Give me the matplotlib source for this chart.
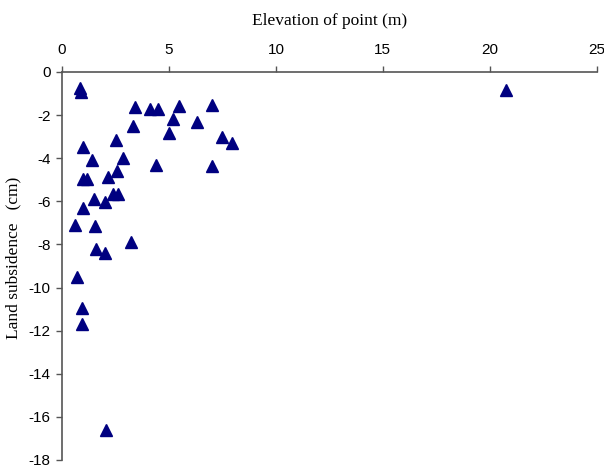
import numpy as np
import matplotlib.pyplot as plt

plt.rcParams['axes.unicode_minus'] = False

# elevation (m) and subsidence (cm)
elevation = [0.85, 0.90, 3.41, 4.11, 4.50, 5.48, 7.02, 5.20, 6.29, 3.33,
             5.02, 7.46, 7.96, 2.52, 0.99, 1.39, 2.87, 4.39, 7.01, 2.55,
             2.17, 0.99, 1.18, 1.52, 2.01, 2.40, 2.63, 1.00, 0.61, 1.54,
             3.21, 1.59, 2.01, 0.72, 0.93, 0.93, 2.06, 20.75]
subsidence = [-0.75, -0.95, -1.62, -1.70, -1.70, -1.59, -1.54, -2.16, -2.32, -2.52,
              -2.81, -3.01, -3.29, -3.17, -3.48, -4.10, -3.97, -4.30, -4.37, -4.59,
              -4.87, -4.95, -4.95, -5.88, -6.03, -5.64, -5.64, -6.29, -7.11, -7.16,
              -7.88, -8.22, -8.39, -9.51, -10.93, -11.70, -16.62, -0.82]

xticks = [0, 5, 10, 15, 20, 25]
yticks = np.arange(0, -19, -2)

fig = plt.figure(figsize=(6.04, 4.69), dpi=100)
ax = fig.add_axes([0.1026, 0.0192, 0.8854, 0.8273])

ax.plot(elevation, subsidence, linestyle='none', marker='^', markersize=9,
        color='#000080', markeredgecolor='#000080', clip_on=False)

ax.set_xlim(0, 25)
ax.set_ylim(-18, 0)
ax.set_xticks(xticks)
ax.set_yticks(yticks)

ax.xaxis.tick_top()
ax.xaxis.set_label_position('top')
for s in ['right', 'bottom']:
    ax.spines[s].set_visible(False)
for s in ['top', 'left']:
    ax.spines[s].set_color('#555555')
    ax.spines[s].set_linewidth(1.2)

ax.tick_params(axis='both', length=4, width=1, color='#555555', labelsize=11)
ax.tick_params(axis='x', pad=7)
ax.tick_params(axis='y', pad=4)
for lab in ax.get_xticklabels() + ax.get_yticklabels():
    lab.set_family('Liberation Sans')

ax.set_xlabel('Elevation of point (m)', family='Liberation Serif', fontsize=12.5, labelpad=13)
ax.set_ylabel('Land subsidence   (cm)', family='Liberation Serif', fontsize=12.5)
ax.yaxis.set_label_coords(-0.075, 0.52)

plt.savefig('out.png', dpi=100)
